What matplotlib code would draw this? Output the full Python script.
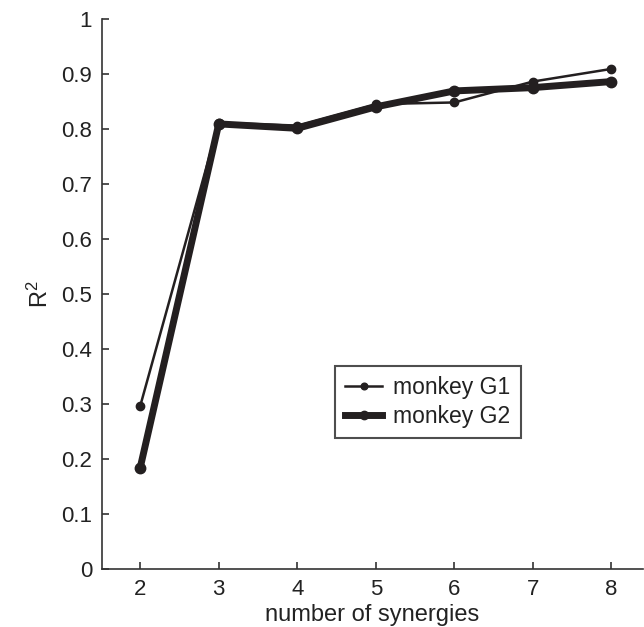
import matplotlib
matplotlib.use("Agg")
import matplotlib.pyplot as plt

plt.rcParams['font.family'] = ['Liberation Sans', 'DejaVu Sans']
plt.rcParams['mathtext.fontset'] = 'custom'
plt.rcParams['mathtext.rm'] = 'Liberation Sans'
plt.rcParams['mathtext.it'] = 'Liberation Sans'

synergies = [2, 3, 4, 5, 6, 7, 8]
g1 = [0.297, 0.812, 0.807, 0.846, 0.849, 0.887, 0.910]
g2 = [0.185, 0.810, 0.802, 0.841, 0.870, 0.876, 0.887]
yticks = [0, 0.1, 0.2, 0.3, 0.4, 0.5, 0.6, 0.7, 0.8, 0.9, 1]
ytick_labels = ['0', '0.1', '0.2', '0.3', '0.4', '0.5', '0.6', '0.7', '0.8', '0.9', '1']

col = '#231f20'
fig = plt.figure(figsize=(6.44, 6.27), dpi=100)
ax = fig.add_axes([0.158, 0.092, 0.840, 0.877])

ax.plot(synergies, g1, color=col, lw=1.8, marker='o', ms=6, label='monkey G1')
ax.plot(synergies, g2, color=col, lw=5, marker='o', ms=7.5, label='monkey G2')

ax.set_xlim(1.51, 8.4)
ax.set_ylim(0, 1)
ax.set_xticks(synergies)
ax.set_yticks(yticks)
ax.set_yticklabels(ytick_labels)
for s in ['top', 'right']:
    ax.spines[s].set_visible(False)
for s in ['left', 'bottom']:
    ax.spines[s].set_linewidth(1.2)
    ax.spines[s].set_color('#333333')
ax.tick_params(direction='in', length=5, width=1.2, labelsize=16, colors='#333333',
               labelcolor='#222222', pad=7)
ax.set_xlabel('number of synergies', fontsize=17, color='#222222', labelpad=3)
ax.set_ylabel(r'R$^{2}$', fontsize=17, color='#222222', labelpad=6)

leg = ax.legend(loc='lower left', bbox_to_anchor=(0.431, 0.239), borderaxespad=0,
                fontsize=16.5, frameon=True, fancybox=False, edgecolor='#222222',
                handlelength=1.6, handletextpad=0.5, borderpad=0.45,
                labelspacing=0.25, markerscale=0.8)
leg.get_frame().set_linewidth(1.5)
for t in leg.get_texts():
    t.set_color('#222222')

fig.savefig('out.png', dpi=100)
